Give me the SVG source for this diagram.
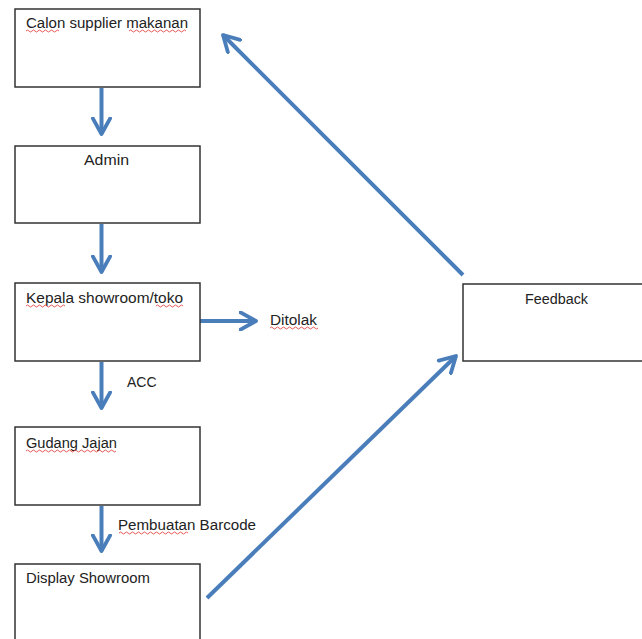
<svg xmlns="http://www.w3.org/2000/svg" width="642" height="639" viewBox="0 0 642 639">
  <defs>
    <marker id="open-arrow" viewBox="0 0 12 12" refX="10" refY="6" markerWidth="5.2" markerHeight="5.2" orient="auto" markerUnits="strokeWidth">
      <path d="M1,1 L10,6 L1,11" fill="none" stroke="#4a7ebb" stroke-width="2.2" stroke-linecap="round" stroke-linejoin="round"/>
    </marker>
    <style>
      .box { fill: #ffffff; stroke: #333333; stroke-width: 1.5; }
      .lbl { font-family: "Liberation Sans", Arial, sans-serif; font-size: 14px; fill: #222222; }
      .conn { stroke: #4a7ebb; stroke-width: 4; fill: none; marker-end: url(#open-arrow); }
      .squiggle { stroke: #e03030; stroke-width: 0.8; fill: none; }
    </style>
  </defs>

  <rect width="642" height="639" fill="#ffffff"/>

  <g id="connectors">
    <line class="conn" x1="101.5" y1="88" x2="101.5" y2="134"/>
    <line class="conn" x1="101.5" y1="224" x2="101.5" y2="272"/>
    <line class="conn" x1="101.5" y1="362" x2="101.5" y2="408"/>
    <line class="conn" x1="101.5" y1="506" x2="101.5" y2="551"/>
    <line class="conn" x1="200" y1="321" x2="256" y2="321"/>
    <line class="conn" x1="463" y1="275" x2="223" y2="35"/>
    <line class="conn" x1="207" y1="598" x2="456" y2="356"/>
  </g>

  <g id="node-calon">
    <rect class="box" x="15" y="9" width="185" height="78"/>
    <text class="lbl" x="26" y="28" textLength="162" lengthAdjust="spacingAndGlyphs">Calon supplier makanan</text>
    <path class="squiggle" d="M26,31 q1.5,-2 3,0 t3,0 t3,0 t3,0 t3,0 t3,0 t3,0 t3,0 t3,0 t3,0 t3,0"/>
    <path class="squiggle" d="M129,31 q1.5,-2 3,0 t3,0 t3,0 t3,0 t3,0 t3,0 t3,0 t3,0 t3,0 t3,0 t3,0 t3,0 t3,0 t3,0 t3,0 t3,0 t3,0 t3,0 t3,0"/>
  </g>

  <g id="node-admin">
    <rect class="box" x="15" y="146" width="185" height="77"/>
    <text class="lbl" x="84" y="165" textLength="45" lengthAdjust="spacingAndGlyphs">Admin</text>
  </g>

  <g id="node-kepala">
    <rect class="box" x="15" y="283" width="185" height="78"/>
    <text class="lbl" x="26" y="303" textLength="157" lengthAdjust="spacingAndGlyphs">Kepala showroom/toko</text>
    <path class="squiggle" d="M26,306 q1.5,-2 3,0 t3,0 t3,0 t3,0 t3,0 t3,0 t3,0 t3,0 t3,0 t3,0 t3,0 t3,0 t3,0"/>
    <path class="squiggle" d="M156,306 q1.5,-2 3,0 t3,0 t3,0 t3,0 t3,0 t3,0 t3,0 t3,0 t3,0"/>
  </g>

  <g id="node-ditolak">
    <text class="lbl" x="270" y="325" textLength="47" lengthAdjust="spacingAndGlyphs">Ditolak</text>
    <path class="squiggle" d="M270,328 q1.5,-2 3,0 t3,0 t3,0 t3,0 t3,0 t3,0 t3,0 t3,0 t3,0 t3,0 t3,0 t3,0 t3,0 t3,0 t3,0 t3,0"/>
  </g>

  <g id="label-acc">
    <text class="lbl" x="127" y="387">ACC</text>
  </g>

  <g id="node-gudang">
    <rect class="box" x="15" y="427" width="185" height="78"/>
    <text class="lbl" x="26" y="448" textLength="91" lengthAdjust="spacingAndGlyphs">Gudang Jajan</text>
    <path class="squiggle" d="M26,451 q1.5,-2 3,0 t3,0 t3,0 t3,0 t3,0 t3,0 t3,0 t3,0 t3,0 t3,0 t3,0 t3,0 t3,0 t3,0 t3,0 t3,0 t3,0 t3,0 t3,0 t3,0 t3,0 t3,0 t3,0 t3,0 t3,0 t3,0 t3,0 t3,0 t3,0 t3,0"/>
  </g>

  <g id="label-barcode">
    <text class="lbl" x="118" y="530" textLength="138" lengthAdjust="spacingAndGlyphs">Pembuatan Barcode</text>
    <path class="squiggle" d="M119,533 q1.5,-2 3,0 t3,0 t3,0 t3,0 t3,0 t3,0 t3,0 t3,0 t3,0 t3,0 t3,0 t3,0 t3,0 t3,0 t3,0 t3,0 t3,0 t3,0 t3,0 t3,0 t3,0 t3,0 t3,0"/>
  </g>

  <g id="node-display">
    <rect class="box" x="15" y="564" width="185" height="80"/>
    <text class="lbl" x="26" y="583" textLength="124" lengthAdjust="spacingAndGlyphs">Display Showroom</text>
  </g>

  <g id="node-feedback">
    <rect class="box" x="463" y="284" width="185" height="77"/>
    <text class="lbl" x="525" y="304" textLength="63" lengthAdjust="spacingAndGlyphs">Feedback</text>
  </g>
</svg>
